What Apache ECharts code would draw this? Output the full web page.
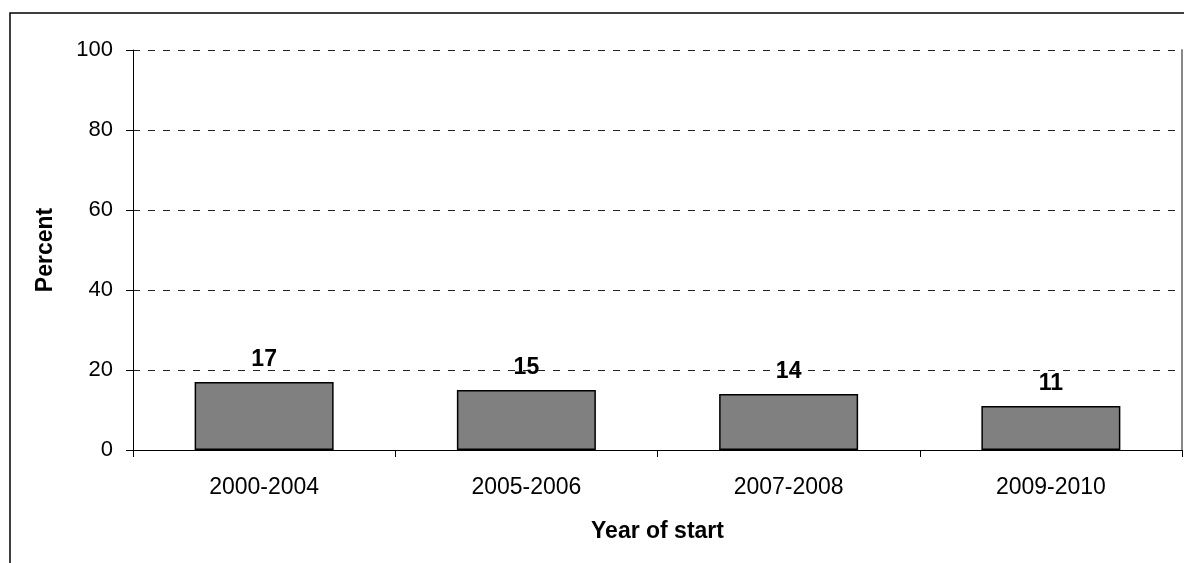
<!DOCTYPE html>
<html>
<head>
<meta charset="utf-8">
<script src="https://cdn.jsdelivr.net/npm/echarts@6/dist/echarts.min.js"></script>
<style>
  html, body { margin: 0; padding: 0; background: #fff; }
  #chart { width: 1184px; height: 563px; }
</style>
</head>
<body>
<div id="chart"></div>
<script>
const categories = ['2000-2004', '2005-2006', '2007-2008', '2009-2010']
const percentValues = [17, 15, 14, 11]
const yTicks = { min: 0, max: 100, interval: 20 }

const font = '"Liberation Sans", Arial, sans-serif'
const chart = echarts.init(document.getElementById('chart'))

chart.setOption({
  animation: false,
  textStyle: { fontFamily: font },
  grid: { left: 133, right: 2, top: 50, bottom: 113 },
  // outer frame of the original figure
  graphic: [{
    type: 'rect',
    shape: { x: 10, y: 13, width: 1300, height: 700 },
    style: { fill: 'none', stroke: '#000', lineWidth: 1.5 },
    silent: true
  }],
  xAxis: {
    type: 'category',
    data: categories,
    name: 'Year of start',
    nameLocation: 'middle',
    nameGap: 70,
    nameTextStyle: { fontSize: 23, fontWeight: 'bold', color: '#000', fontFamily: font },
    axisLine: { lineStyle: { color: '#000', width: 1 } },
    axisTick: { show: true, length: 7, lineStyle: { color: '#000' } },
    axisLabel: { fontSize: 23, color: '#000', margin: 26, fontFamily: font }
  },
  yAxis: [{
    type: 'value',
    min: yTicks.min,
    max: yTicks.max,
    interval: yTicks.interval,
    name: 'Percent',
    nameLocation: 'middle',
    nameRotate: 90,
    nameGap: 76,
    nameTextStyle: { fontSize: 23, fontWeight: 'bold', color: '#000', fontFamily: font },
    axisLine: { show: true, lineStyle: { color: '#000', width: 1 } },
    axisTick: { show: true, length: 7, lineStyle: { color: '#000' } },
    axisLabel: { fontSize: 22, color: '#000', margin: 20, fontFamily: font },
    splitLine: { lineStyle: { color: '#222', type: [7, 8], width: 1 } }
  }, {
    // grey right edge of plot area
    type: 'value',
    position: 'right',
    min: yTicks.min,
    max: yTicks.max,
    interval: yTicks.interval,
    axisLine: { show: true, lineStyle: { color: '#888', width: 2 } },
    axisTick: { show: false },
    axisLabel: { show: false },
    splitLine: { show: false }
  }],
  series: [{
    type: 'bar',
    data: percentValues,
    barCategoryGap: '47%',
    itemStyle: { color: '#808080', borderColor: '#000', borderWidth: 1.5 },
    label: {
      show: true,
      position: 'top',
      distance: 11,
      fontSize: 23,
      fontWeight: 'bold',
      color: '#000',
      fontFamily: font
    }
  }]
})
</script>
</body>
</html>
